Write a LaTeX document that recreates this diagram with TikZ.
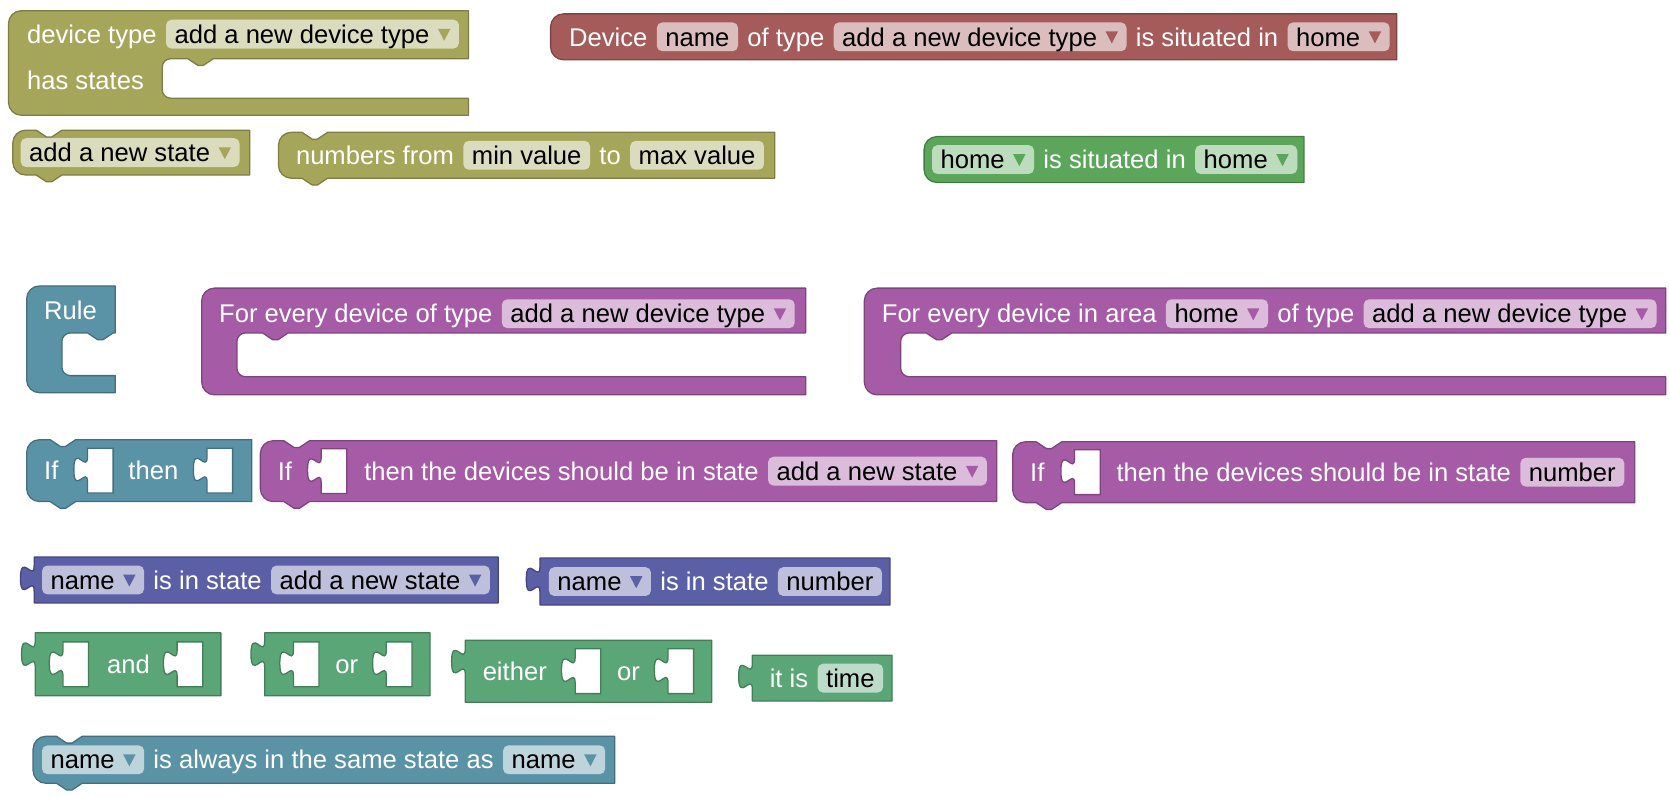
\documentclass[tikz,border=0pt]{standalone}
\usepackage{fontspec}
\setmainfont{Liberation Sans}
\usetikzlibrary{positioning}

\definecolor{olvC}{RGB}{166,166,91}
\definecolor{olvF}{RGB}{219,219,189}
\definecolor{redC}{RGB}{166,91,91}
\definecolor{redF}{RGB}{219,189,189}
\definecolor{grnC}{RGB}{91,166,91}
\definecolor{grnF}{RGB}{189,219,189}
\definecolor{mntC}{RGB}{91,166,119}
\definecolor{mntF}{RGB}{189,219,201}
\definecolor{tealC}{RGB}{91,147,166}
\definecolor{tealF}{RGB}{189,212,219}
\definecolor{purC}{RGB}{166,91,166}
\definecolor{purF}{RGB}{219,189,219}
\definecolor{bluC}{RGB}{91,95,166}
\definecolor{bluF}{RGB}{189,191,219}

% dropdown arrow in a field
\newcommand{\dd}[1]{\hspace{4pt}\tikz[baseline=0pt]\fill[#1, sharp corners] (0pt,6.8pt) -- (5.8pt,6.8pt) -- (2.9pt,1.2pt) -- cycle;}

\tikzset{
  lbl/.style={text=white, inner sep=0pt, font=\fontsize{12}{14}\selectfont, text height=9pt, text depth=0.4pt},
  fld/.style={fill=#1, rounded corners=2.5pt, inner xsep=4pt, inner ysep=0pt, minimum height=13.5pt, text=black, font=\fontsize{12}{14}\selectfont, text height=9pt, text depth=0.4pt},
  blk/.style={line width=0.6pt, line join=round, fill=#1, draw=#1!75!black},
  notch/.style={insert path={-- ++(9.6,6.4) -- ++(4.8,0) -- ++(9.6,-6.4)}},
  nub/.style={insert path={-- ++(-9.6,6.4) -- ++(-4.8,0) -- ++(-9.6,-6.4)}},
  tab/.style={insert path={.. controls +(0,-16) and +(0,24.8) .. ++(-12.8,-12) .. controls +(0,-24.8) and +(0,16) .. ++(12.8,-12)}},
  slot/.pic={\draw[fill=white, draw=#1!75!black, line width=0.6pt] (0,0) -- (24,0) -- (24,42) -- (0,42) -- (0,32) [tab] -- cycle;}
}

\begin{document}
\begin{tikzpicture}[x=0.5pt, y=-0.5pt, node distance=4pt]
\fill[white] (0,0) rectangle (1565,746);
\useasboundingbox (0,0) rectangle (1565,746);

% device type
\draw[blk=olvC] (8,22) arc[start angle=180,end angle=270,radius=12] -- (439,10) -- (439,55) -- (200,55) [nub] -- (160,55) arc[start angle=270,end angle=180,radius=8] -- (152,84) arc[start angle=180,end angle=90,radius=8] -- (439,92) -- (439,108) -- (20,108) arc[start angle=90,end angle=180,radius=12] -- cycle;
\node[lbl, anchor=west] (dtLbl) at (25,32) {device type};
\node[fld=olvF, right=of dtLbl] (dtFld) {add a new device type\dd{olvC}};
\node[lbl, anchor=west] (hsLbl) at (25,75) {has states};

% states
\draw[blk=olvC] (12,134) arc[start angle=180,end angle=270,radius=12] -- (34,122) [notch] -- (234,122) -- (234,164) -- (58,164) [nub] -- (24,164) arc[start angle=90,end angle=180,radius=12] -- cycle;
\node[fld=olvF, anchor=west] (nsFld) at (19,143) {add a new state\dd{olvC}};

\draw[blk=olvC] (261,136) arc[start angle=180,end angle=270,radius=12] -- (283,124) [notch] -- (726,124) -- (726,167) -- (307,167) [nub] -- (273,167) arc[start angle=90,end angle=180,radius=12] -- cycle;
\node[lbl, anchor=west] (nfLbl) at (277,145.5) {numbers from};
\node[fld=olvF, right=of nfLbl] (minFld) {min value};
\node[lbl, right=of minFld] (toLbl) {to};
\node[fld=olvF, right=of toLbl] (maxFld) {max value};

% devices and areas
\draw[blk=redC] (516,25) arc[start angle=180,end angle=270,radius=12] -- (1309,13) -- (1309,56) -- (528,56) arc[start angle=90,end angle=180,radius=12] -- cycle;
\node[lbl, anchor=west] (devLbl) at (533,34.5) {Device};
\node[fld=redF, right=of devLbl] (devName) {name};
\node[lbl, right=of devName] (devOf) {of type};
\node[fld=redF, right=of devOf] (devType) {add a new device type\dd{redC}};
\node[lbl, right=of devType] (devIn) {is situated in};
\node[fld=redF, right=of devIn] (devHome) {home\dd{redC}};

\draw[blk=grnC] (866,140) arc[start angle=180,end angle=270,radius=12] -- (1222,128) -- (1222,171) -- (878,171) arc[start angle=90,end angle=180,radius=12] -- cycle;
\node[fld=grnF, anchor=west] (hmA) at (873,149.5) {home\dd{grnC}};
\node[lbl, right=of hmA] (hmIn) {is situated in};
\node[fld=grnF, right=of hmIn] (hmB) {home\dd{grnC}};

% rules
\draw[blk=tealC] (25,280) arc[start angle=180,end angle=270,radius=12] -- (108,268) -- (108,312) -- (106,312) [nub] -- (66,312) arc[start angle=270,end angle=180,radius=8] -- (58,344) arc[start angle=180,end angle=90,radius=8] -- (108,352) -- (108,368) -- (37,368) arc[start angle=90,end angle=180,radius=12] -- cycle;
\node[lbl, anchor=west] (ruleLbl) at (41,291) {Rule};

\draw[blk=purC] (189,282) arc[start angle=180,end angle=270,radius=12] -- (755,270) -- (755,312) -- (270,312) [nub] -- (230,312) arc[start angle=270,end angle=180,radius=8] -- (222,345) arc[start angle=180,end angle=90,radius=8] -- (755,353) -- (755,370) -- (201,370) arc[start angle=90,end angle=180,radius=12] -- cycle;
\node[lbl, anchor=west] (feLbl) at (205,294) {For every device of type};
\node[fld=purF, right=of feLbl] (feType) {add a new device type\dd{purC}};

\draw[blk=purC] (810,282) arc[start angle=180,end angle=270,radius=12] -- (1561,270) -- (1561,312) -- (892,312) [nub] -- (852,312) arc[start angle=270,end angle=180,radius=8] -- (844,345) arc[start angle=180,end angle=90,radius=8] -- (1561,353) -- (1561,370) -- (822,370) arc[start angle=90,end angle=180,radius=12] -- cycle;
\node[lbl, anchor=west] (faLbl) at (826,294) {For every device in area};
\node[fld=purF, right=of faLbl] (faHome) {home\dd{purC}};
\node[lbl, right=of faHome] (faOf) {of type};
\node[fld=purF, right=of faOf] (faType) {add a new device type\dd{purC}};

% if blocks
\draw[blk=tealC] (25,424) arc[start angle=180,end angle=270,radius=12] -- (47,412) [notch] -- (236,412) -- (236,470) -- (71,470) [nub] -- (37,470) arc[start angle=90,end angle=180,radius=12] -- cycle;
\node[lbl, anchor=west] (ifLbl) at (41,441) {If};
\pic at (82,420) {slot=tealC};
\node[lbl, anchor=west] (thenLbl) at (120,441) {then};
\pic at (194,420) {slot=tealC};

\draw[blk=purC] (244,425) arc[start angle=180,end angle=270,radius=12] -- (266,413) [notch] -- (934,413) -- (934,470) -- (290,470) [nub] -- (256,470) arc[start angle=90,end angle=180,radius=12] -- cycle;
\node[lbl, anchor=west] (ifsLbl) at (260,441.5) {If};
\pic at (301,420.5) {slot=purC};
\node[lbl, anchor=west] (ifsThen) at (341,441.5) {then the devices should be in state};
\node[fld=purF, right=of ifsThen] (ifsState) {add a new state\dd{purC}};

\draw[blk=purC] (949,426) arc[start angle=180,end angle=270,radius=12] -- (971,414) [notch] -- (1532,414) -- (1532,471) -- (995,471) [nub] -- (961,471) arc[start angle=90,end angle=180,radius=12] -- cycle;
\node[lbl, anchor=west] (ifnLbl) at (965,442.5) {If};
\pic at (1007,421.5) {slot=purC};
\node[lbl, anchor=west] (ifnThen) at (1046,442.5) {then the devices should be in state};
\node[fld=purF, right=of ifnThen] (ifnNum) {number};

% conditions
\draw[blk=bluC] (32,522) -- (467,522) -- (467,565) -- (32,565) -- (32,554) [tab] -- cycle;
\node[fld=bluF, anchor=west] (isName) at (39,543.5) {name\dd{bluC}};
\node[lbl, right=of isName] (isLbl) {is in state};
\node[fld=bluF, right=of isLbl] (isState) {add a new state\dd{bluC}};

\draw[blk=bluC] (506,523) -- (834,523) -- (834,567) -- (506,567) -- (506,555) [tab] -- cycle;
\node[fld=bluF, anchor=west] (inName) at (514,545) {name\dd{bluC}};
\node[lbl, right=of inName] (inLbl) {is in state};
\node[fld=bluF, right=of inLbl] (inNum) {number};

\draw[blk=mntC] (33,593) -- (207,593) -- (207,652) -- (33,652) -- (33,625) [tab] -- cycle;
\pic at (59,601.5) {slot=mntC};
\node[lbl, anchor=west] (andLbl) at (100,622.5) {and};
\pic at (166,601.5) {slot=mntC};

\draw[blk=mntC] (248,593) -- (403,593) -- (403,652) -- (248,652) -- (248,625) [tab] -- cycle;
\pic at (275,601.5) {slot=mntC};
\node[lbl, anchor=west] (orLbl) at (314,622.5) {or};
\pic at (362,601.5) {slot=mntC};

\draw[blk=mntC] (436,600) -- (667,600) -- (667,658) -- (436,658) -- (436,632) [tab] -- cycle;
\node[lbl, anchor=west] (eiLbl) at (452,629) {either};
\pic at (539,608) {slot=mntC};
\node[lbl, anchor=west] (eiOr) at (578,629) {or};
\pic at (626,608) {slot=mntC};

\draw[blk=mntC] (705,614) -- (836,614) -- (836,657) -- (705,657) -- (705,646) [tab] -- cycle;
\node[lbl, anchor=west] (itLbl) at (721,635.5) {it is};
\node[fld=mntF, right=of itLbl] (itTime) {time};

\draw[blk=tealC] (31,702) arc[start angle=180,end angle=270,radius=12] -- (53,690) [notch] -- (576,690) -- (576,734) -- (77,734) [nub] -- (43,734) arc[start angle=90,end angle=180,radius=12] -- cycle;
\node[fld=tealF, anchor=west] (awName) at (39,712) {name\dd{tealC}};
\node[lbl, right=of awName] (awLbl) {is always in the same state as};
\node[fld=tealF, right=of awLbl] (awName2) {name\dd{tealC}};
\end{tikzpicture}
\end{document}
